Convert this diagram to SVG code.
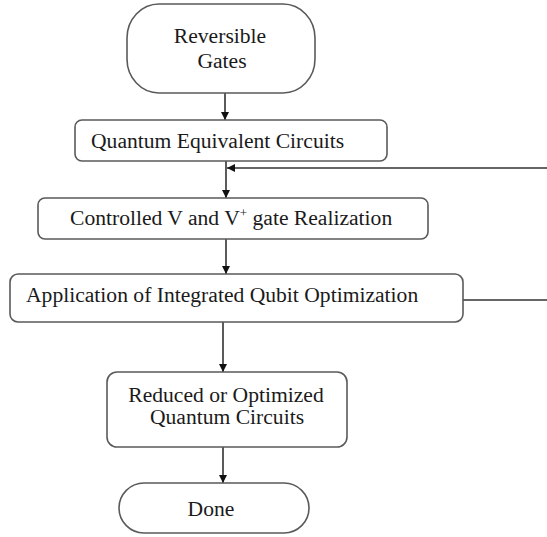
<svg xmlns="http://www.w3.org/2000/svg" width="547" height="537" viewBox="0 0 547 537">
  <style>
    .box { fill: #ffffff; stroke: #5a5a5a; stroke-width: 1.6; }
    .lbl { font-family: "Liberation Serif", "Times New Roman", serif; font-size: 21.6px; fill: #1a1a1a; }
    .mid { text-anchor: middle; }
    .wire { fill: none; stroke: #333333; stroke-width: 1.6; }
  </style>
  <defs>
    <marker id="arrow" viewBox="0 0 10 10" refX="10" refY="5" markerWidth="8" markerHeight="8" markerUnits="userSpaceOnUse" orient="auto">
      <path d="M0,0 L10,5 L0,10 Z" fill="#111111"/>
    </marker>
  </defs>
  <rect width="547" height="537" fill="#ffffff"/>

  <!-- flow connectors -->
  <g id="connectors">
    <line class="wire" x1="225" y1="93" x2="225" y2="120" marker-end="url(#arrow)"/>
    <line class="wire" x1="226" y1="161" x2="226" y2="198" marker-end="url(#arrow)"/>
    <line class="wire" x1="547" y1="168" x2="227" y2="168" marker-end="url(#arrow)"/>
    <line class="wire" x1="226" y1="239" x2="226" y2="274" marker-end="url(#arrow)"/>
    <line class="wire" x1="463" y1="300" x2="547" y2="300"/>
    <line class="wire" x1="223" y1="322" x2="223" y2="372" marker-end="url(#arrow)"/>
    <line class="wire" x1="223" y1="447" x2="223" y2="483" marker-end="url(#arrow)"/>
  </g>

  <g id="start">
    <rect class="box" x="127" y="4" width="188" height="89" rx="32" ry="34"/>
    <text class="lbl mid" x="220" y="43">Reversible</text>
    <text class="lbl mid" x="222" y="68">Gates</text>
  </g>

  <g id="equivalent">
    <rect class="box" x="75" y="120" width="312" height="41" rx="7"/>
    <text class="lbl" x="91" y="148">Quantum Equivalent Circuits</text>
  </g>

  <g id="realization">
    <rect class="box" x="38" y="198" width="390" height="41" rx="7"/>
    <text class="lbl" x="70" y="225">Controlled V and V<tspan font-size="13" dy="-8">+</tspan><tspan dy="8"> gate Realization</tspan></text>
  </g>

  <g id="optimization">
    <rect class="box" x="10" y="274" width="453" height="48" rx="8"/>
    <text class="lbl" x="26" y="302">Application of Integrated Qubit Optimization</text>
  </g>

  <g id="reduced">
    <rect class="box" x="107" y="372" width="240" height="75" rx="10"/>
    <text class="lbl mid" x="226" y="402">Reduced or Optimized</text>
    <text class="lbl mid" x="227" y="424">Quantum Circuits</text>
  </g>

  <g id="done">
    <rect class="box" x="119" y="483" width="190" height="50" rx="25" ry="25"/>
    <text class="lbl mid" x="211" y="516">Done</text>
  </g>
</svg>
